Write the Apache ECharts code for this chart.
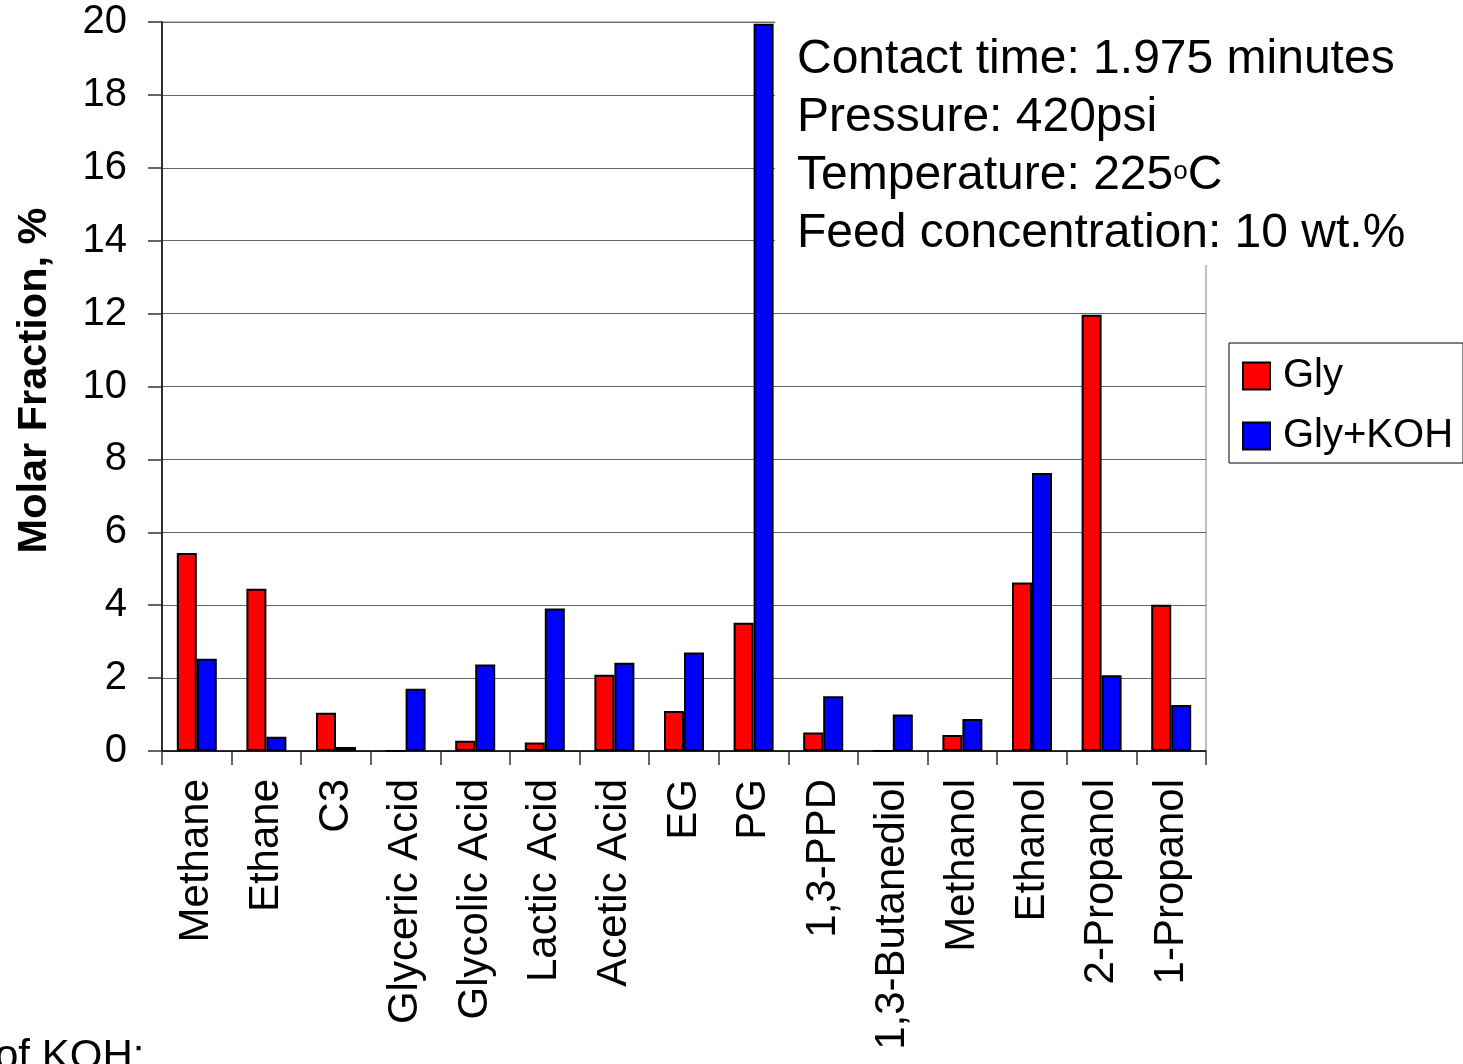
<!DOCTYPE html>
<html>
<head>
<meta charset="utf-8">
<script src="https://cdn.jsdelivr.net/npm/echarts@6/dist/echarts.min.js"></script>
<style>
html,body{margin:0;padding:0;background:#fff;}
#chart{width:1463px;height:1064px;}
</style>
</head>
<body>
<div id="chart"></div>
<script>
const categories = ['Methane','Ethane','C3','Glyceric Acid','Glycolic Acid','Lactic Acid','Acetic Acid','EG','PG','1,3-PPD','1,3-Butanediol','Methanol','Ethanol','2-Propanol','1-Propanol'];
const gly = [5.43, 4.45, 1.05, 0, 0.28, 0.23, 2.09, 1.10, 3.52, 0.51, 0, 0.44, 4.62, 11.97, 4.01];
const glyKOH = [2.53, 0.39, 0.11, 1.71, 2.37, 3.91, 2.42, 2.70, 19.95, 1.50, 1.00, 0.88, 7.63, 2.08, 1.26];
const yTicks = [0, 2, 4, 6, 8, 10, 12, 14, 16, 18, 20];
const annotationLines = ['Contact time: 1.975 minutes', 'Pressure: 420psi', 'Temperature: 225{sup|o}C', 'Feed concentration: 10 wt.%'];
const footText = 'of KOH:';

const FONT = "'Liberation Sans', Arial, Helvetica, sans-serif";
const chart = echarts.init(document.getElementById('chart'), null, {renderer: 'canvas'});

const option = {
  backgroundColor: '#fff',
  animation: false,
  textStyle: {fontFamily: FONT, color: '#000'},
  grid: {left: 162, right: 257, top: 22, bottom: 313, show: true, borderColor: '#808080', borderWidth: 1, backgroundColor: 'transparent'},
  legend: {
    orient: 'vertical',
    left: 1229, top: 343,
    padding: [13, 10, 7, 13],
    itemGap: 20,
    itemWidth: 27, itemHeight: 27,
    icon: 'rect',
    borderColor: '#000', borderWidth: 1,
    textStyle: {fontFamily: FONT, fontSize: 40, color: '#000', lineHeight: 40, padding: [0, 0, 0, 8]},
    data: ['Gly', 'Gly+KOH']
  },
  xAxis: {
    type: 'category',
    data: categories,
    axisLine: {lineStyle: {color: '#000', width: 1.5}},
    axisTick: {show: true, length: 14, interval: 0, lineStyle: {color: '#333', width: 1.5}},
    axisLabel: {interval: 0, rotate: 90, fontSize: 42, color: '#000', fontFamily: FONT, margin: 28},
    splitLine: {show: false}
  },
  yAxis: {
    type: 'value',
    min: yTicks[0], max: yTicks[yTicks.length - 1], interval: 2,
    name: 'Molar Fraction, %',
    nameLocation: 'middle',
    nameGap: 106,
    nameTextStyle: {fontSize: 41.5, fontWeight: 'bold', color: '#000', fontFamily: FONT, padding: [0, 0, 0, 12]},
    axisLine: {show: true, lineStyle: {color: '#000', width: 1.5}},
    axisTick: {show: true, length: 14, lineStyle: {color: '#333', width: 1.5}},
    axisLabel: {fontSize: 40, color: '#000', fontFamily: FONT, margin: 35},
    splitLine: {show: true, lineStyle: {color: '#666', width: 1.2}}
  },
  series: [
    {name: 'Gly', type: 'bar', data: gly, barWidth: 20, barGap: '0%',
     itemStyle: {color: '#FF0000', borderColor: '#000', borderWidth: 2}},
    {name: 'Gly+KOH', type: 'bar', data: glyKOH, barWidth: 20, barGap: '0%',
     itemStyle: {color: '#0000FF', borderColor: '#000', borderWidth: 2}}
  ],
  graphic: [
    {type: 'rect', z: 100, shape: {x: 775, y: 0, width: 700, height: 265}, style: {fill: '#fff'}},
    {type: 'text', z: 101, left: 797, top: 31,
     style: {
       text: annotationLines.join('\n'),
       font: "48px 'Liberation Sans', Arial, sans-serif",
       fill: '#000',
       lineHeight: 58,
       rich: {sup: {fontSize: 26, lineHeight: 58, padding: [0, 0, 8, 0], fill: '#000', fontFamily: FONT}}
     }},
    {type: 'text', z: 101, left: -5, top: 1036,
     style: {text: footText, font: "42px 'Liberation Sans', Arial, sans-serif", fill: '#000'}}
  ]
};
chart.setOption(option);
</script>
</body>
</html>
